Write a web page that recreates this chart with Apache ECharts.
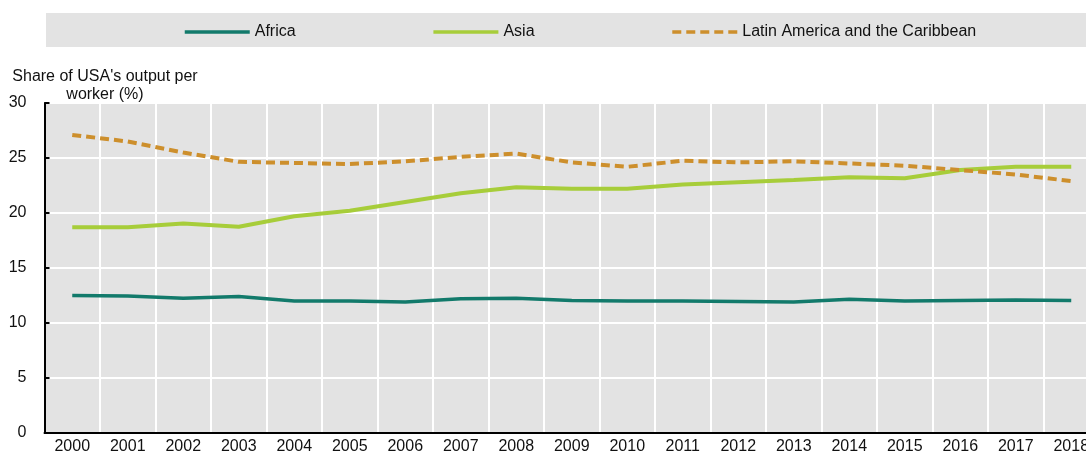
<!DOCTYPE html>
<html lang="en">
<head>
    <meta charset="UTF-8">
    <title>Share of USA's output per worker</title>
    <script src="https://cdn.jsdelivr.net/npm/echarts@6/dist/echarts.min.js"></script>
    <style>
        html, body { margin: 0; padding: 0; background: #fff; overflow: hidden; }
        /* plot runs past the right edge of the window, like the original */
        #chart { width: 1099px; height: 455px; }
    </style>
</head>
<body>
    <div id="chart"></div>
    <script>
        var years = ['2000', '2001', '2002', '2003', '2004', '2005', '2006', '2007', '2008', '2009',
                     '2010', '2011', '2012', '2013', '2014', '2015', '2016', '2017', '2018'];
        var africa = [12.5, 12.45, 12.25, 12.4, 12.0, 12.0, 11.9, 12.2, 12.25, 12.05,
                      12.0, 12.0, 11.95, 11.9, 12.15, 12.0, 12.05, 12.1, 12.05];
        var asia = [18.7, 18.7, 19.05, 18.75, 19.7, 20.2, 21.0, 21.8, 22.35, 22.2,
                    22.2, 22.6, 22.8, 23.0, 23.25, 23.15, 23.9, 24.2, 24.2];
        var latam = [27.1, 26.5, 25.5, 24.65, 24.55, 24.45, 24.7, 25.1, 25.4, 24.6,
                     24.2, 24.75, 24.6, 24.7, 24.5, 24.3, 23.9, 23.5, 22.9];

        var font = 'Liberation Sans, Arial, sans-serif';
        var chart = echarts.init(document.getElementById('chart'));

        chart.setOption({
            animation: false,
            textStyle: { fontFamily: font },
            graphic: [
                {
                    type: 'rect',
                    z: -1,
                    shape: { x: 46, y: 13, width: 1060, height: 34 },
                    style: { fill: '#e3e3e3' }
                },
                {
                    type: 'text',
                    x: 105,
                    y: 68,
                    style: {
                        text: "Share of USA's output per\nworker (%)",
                        fontFamily: font,
                        fontSize: 16,
                        fill: '#111',
                        align: 'center',
                        lineHeight: 18
                    }
                }
            ],
            legend: {
                left: 183,
                top: 24,
                padding: 0,
                itemGap: 136,
                itemWidth: 65,
                itemHeight: 14,
                itemStyle: { opacity: 0 },
                lineStyle: { width: 3.5 },
                textStyle: { fontSize: 16, color: '#111' },
                data: ['Africa', 'Asia', 'Latin America and the Caribbean']
            },
            grid: {
                left: 44.5,
                right: 0,
                top: 103,
                bottom: 22,
                show: true,
                backgroundColor: '#e3e3e3',
                borderWidth: 0
            },
            xAxis: {
                type: 'category',
                data: years,
                boundaryGap: true,
                axisLine: { lineStyle: { color: '#000', width: 2 } },
                axisTick: { inside: true, length: 5, lineStyle: { color: '#000', width: 2 } },
                axisLabel: { color: '#111', fontSize: 16, margin: 6, interval: 0 },
                splitLine: { show: true, interval: 0, lineStyle: { color: '#fff', width: 2 } }
            },
            yAxis: {
                type: 'value',
                min: 0,
                max: 30,
                interval: 5,
                axisLine: { show: true, lineStyle: { color: '#000', width: 2 } },
                axisTick: { show: true, inside: true, length: 5, lineStyle: { color: '#000', width: 2 } },
                axisLabel: { color: '#111', fontSize: 16, margin: 18 },
                splitLine: { show: true, lineStyle: { color: '#fff', width: 2 } }
            },
            series: [
                {
                    name: 'Africa',
                    type: 'line',
                    data: africa,
                    symbol: 'none',
                    lineStyle: { color: '#127a6b', width: 3.5 },
                    itemStyle: { color: '#127a6b' }
                },
                {
                    name: 'Asia',
                    type: 'line',
                    data: asia,
                    symbol: 'none',
                    lineStyle: { color: '#a7cd3a', width: 4 },
                    itemStyle: { color: '#a7cd3a' }
                },
                {
                    name: 'Latin America and the Caribbean',
                    type: 'line',
                    data: latam,
                    symbol: 'none',
                    lineStyle: { color: '#cd8f2c', width: 4, type: [9, 5] },
                    itemStyle: { color: '#cd8f2c' }
                }
            ]
        });
    </script>
</body>
</html>
